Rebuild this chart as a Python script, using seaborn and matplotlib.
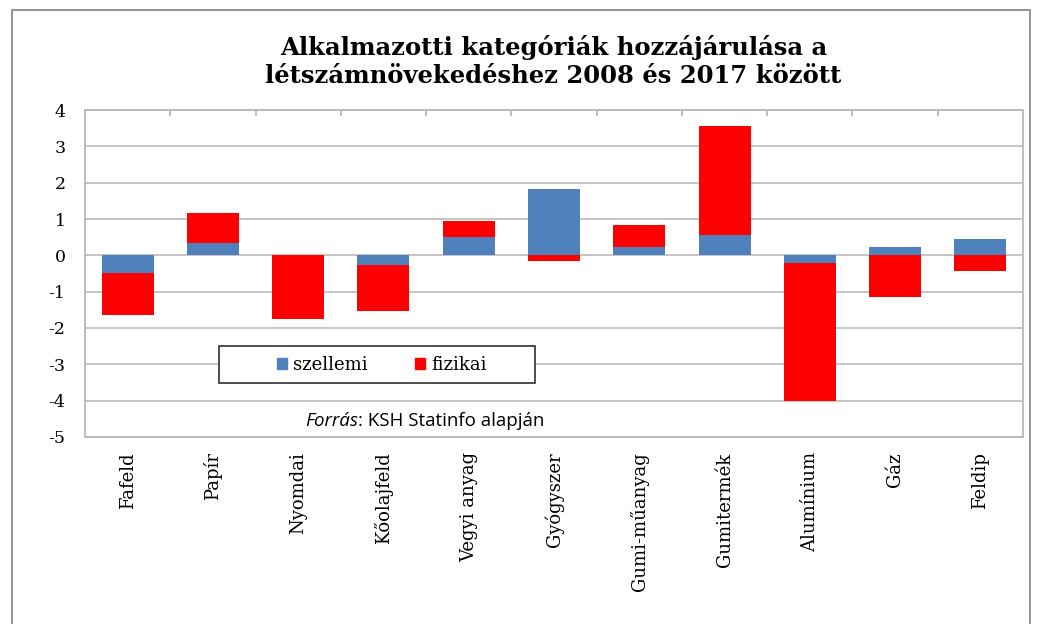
import numpy as np
import pandas as pd
import matplotlib
matplotlib.use("Agg")
import matplotlib.pyplot as plt
import matplotlib.patches as mpatches
import seaborn as sns

categories = ["Fafeld", "Papír", "Nyomdai", "Kőolajfeld", "Vegyi anyag", "Gyógyszer",
              "Gumi-műanyag", "Gumitermék", "Alumínium", "Gáz", "Feldip"]
szellemi = [-0.48, 0.34, 0.0, -0.26, 0.51, 1.83, 0.23, 0.56, -0.21, 0.23, 0.45]
fizikai = [-1.16, 0.83, -1.76, -1.28, 0.44, -0.15, 0.60, 3.00, -3.81, -1.15, -0.43]

BLUE = "#4F81BD"
RED = "#FF0000"

sns.set_theme(style="white")
plt.rcParams["font.family"] = ["DejaVu Serif"]
plt.rcParams["text.color"] = "black"
plt.rcParams["xtick.color"] = "black"
plt.rcParams["ytick.color"] = "black"

df = pd.DataFrame({"kat": categories, "szellemi": szellemi, "fizikai": fizikai})
# Excel-style stacking: positives and negatives stack separately
same_sign = np.sign(df["szellemi"]) == np.sign(df["fizikai"])
df["fizikai_top"] = df["fizikai"] + np.where(same_sign, df["szellemi"], 0.0)

fig = plt.figure(figsize=(10.4, 6.24), dpi=100)
ax = fig.add_axes([0.0817, 0.2997, 0.9020, 0.5240])

# red bar reaches the stacked end, blue drawn on top from zero
sns.barplot(data=df, x="kat", y="fizikai_top", color=RED, saturation=1,
            width=0.61, linewidth=0, ax=ax, zorder=2)
sns.barplot(data=df, x="kat", y="szellemi", color=BLUE, saturation=1,
            width=0.61, linewidth=0, ax=ax, zorder=3)

ax.set_ylim(-5, 4)
ax.set_xlim(-0.5, len(categories) - 0.5)
ax.set_yticks(range(-5, 5))
ax.set_yticklabels([str(v) for v in range(-5, 5)], fontsize=12.5)
ax.set_xticks(range(len(categories)))
ax.set_xticklabels(categories, rotation=90, fontsize=13)
ax.set_xlabel("")
ax.set_ylabel("")
ax.yaxis.grid(True, color="#c0c0c0", linewidth=1.3, zorder=0)
ax.set_axisbelow(True)
for side in ["left", "right", "top", "bottom"]:
    ax.spines[side].set_color("#b8b8b8")
    ax.spines[side].set_linewidth(1.3)
ax.tick_params(axis="y", length=5, color="#b8b8b8", labelcolor="black", width=1.3, pad=9)
ax.tick_params(axis="x", length=0, labelcolor="black", pad=11)
# small tick marks at category boundaries along the top
ax.set_xticks(np.arange(0.5, len(categories) - 0.5, 1), minor=True)
ax.tick_params(axis="x", which="minor", top=True, bottom=False, direction="in",
               length=4, color="#b8b8b8", width=1.3)

# legend: frame drawn separately, entries centred inside it
fig.patches.append(mpatches.Rectangle((219 / 1040, 1 - 383 / 624), 316 / 1040, 37 / 624,
                                      transform=fig.transFigure, fill=True,
                                      facecolor="white", edgecolor="#404040",
                                      linewidth=1.3, zorder=5))
handles = [mpatches.Patch(color=BLUE, label="szellemi"),
           mpatches.Patch(color=RED, label="fizikai")]
leg = fig.legend(handles=handles, loc="center", bbox_to_anchor=(382 / 1040, 1 - 365 / 624),
                 ncol=2, fontsize=13, frameon=False,
                 handlelength=0.55, handleheight=0.55, handletextpad=0.35,
                 columnspacing=2.6, borderpad=0)
leg.set_zorder(6)

src_font = ["Open Sans", "DejaVu Sans"]
t1 = fig.text(305 / 1040, 1 - 421 / 624, "Forrás", fontsize=13.5, style="italic",
              family=src_font, ha="left", va="center")
fig.canvas.draw()
bb = t1.get_window_extent()
fig.text(bb.x1 / fig.bbox.width, 1 - 421 / 624, ": KSH Statinfo alapján", fontsize=13.5,
         family=src_font, ha="left", va="center")

fig.text(0.532, 0.902, "Alkalmazotti kategóriák hozzájárulása a\nlétszámnövekedéshez 2008 és 2017 között",
         ha="center", va="center", fontsize=17.5, fontweight="bold", linespacing=1.22)

fig.patches.append(mpatches.Rectangle((12 / 1040, -0.02), 1018 / 1040, 1 - 10 / 624 + 0.02,
                                      transform=fig.transFigure, fill=False,
                                      edgecolor="#8c8c8c", linewidth=1.3))

fig.savefig("out.png", dpi=100)
